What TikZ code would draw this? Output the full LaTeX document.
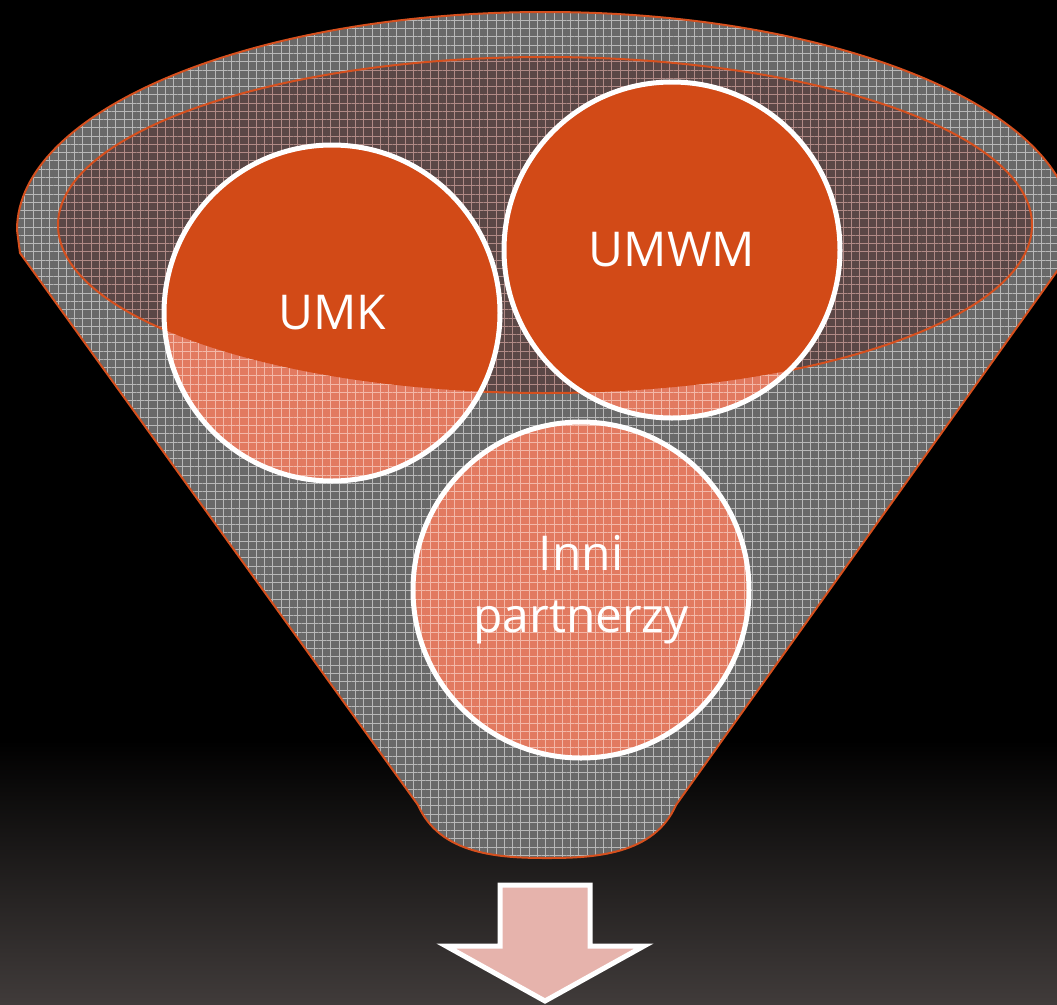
\documentclass[tikz,border=0pt]{standalone}
\usepackage{fontspec}
\setmainfont{Open Sans}
\usetikzlibrary{patterns.meta}
\definecolor{umorange}{HTML}{D24A17}
\definecolor{rimorange}{HTML}{D6501E}
\definecolor{funnelgray}{HTML}{696969}
\definecolor{meshgray}{HTML}{B8B8B8}
\definecolor{glassbrown}{HTML}{5A4746}
\definecolor{meshrose}{HTML}{B08A86}
\definecolor{lightsalmon}{HTML}{E27A60}
\definecolor{meshpink}{HTML}{F3B8A8}
\definecolor{arrowpink}{HTML}{E6B3AC}
\definecolor{bgbottom}{HTML}{403B3A}

\begin{document}
\begin{tikzpicture}[x=0.75pt, y=-0.75pt,
    mesh/.style 2 args={preaction={fill=#1}, pattern={Hatch[angle=0,distance=6.2pt,line width=0.5pt]}, pattern color=#2},
    rim/.style={draw=rimorange, line width=1.5pt},
    partner/.style={circle, minimum size=252pt, inner sep=0pt, draw=white, line width=3.75pt,
        text=white, align=center, font=\fontsize{36}{46.5}\selectfont}]
    \useasboundingbox (0,0) rectangle (1057,1004);
    \clip (0,0) rectangle (1057,1004);
    % background
    \fill[black] (0,0) rectangle (1057,1004);
    \shade[top color=black, bottom color=bgbottom] (0,740) rectangle (1057,1004);

    % funnel
    \path[mesh={funnelgray}{meshgray}, rim] (17,230) arc[start angle=180, end angle=360, x radius=528, y radius=218]
        -- (1070,253) -- (676,805) .. controls (654,855) and (594,858) .. (547,858)
        .. controls (500,858) and (440,855) .. (418,805) -- (20,253) -- cycle;
    \coordinate (rimc) at (545,225);
    \path[mesh={glassbrown}{meshrose}, rim] (rimc) ellipse[x radius=487, y radius=168];

    % circles
    \coordinate (cUMK) at (332,313);
    \coordinate (cUMWM) at (672,250);
    \coordinate (cInni) at (581,590);
    \foreach \c in {cUMK,cUMWM,cInni}
        \path[mesh={lightsalmon}{meshpink}] (\c) circle[radius=168];
    \begin{scope}
        \clip (rimc) ellipse[x radius=487, y radius=168];
        \foreach \c in {cUMK,cUMWM,cInni}
            \fill[umorange] (\c) circle[radius=168];
    \end{scope}

    \node[partner] (umk) at (cUMK) {UMK};
    \node[partner] (umwm) at (cUMWM) {UMWM};
    \node[partner] (inni) at (cInni) {Inni\\partnerzy};

    % arrow
    \draw[white, line width=3.75pt, fill=arrowpink, line join=miter]
        (500,885) -- (590,885) -- (590,946) -- (644,946) -- (545,1001) -- (446,946) -- (500,946) -- cycle;
\end{tikzpicture}
\end{document}
